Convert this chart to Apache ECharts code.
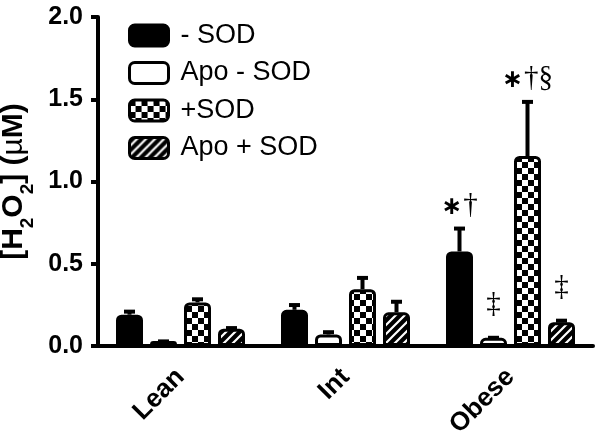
<!DOCTYPE html>
<html><head><meta charset="utf-8">
<script src="https://cdn.jsdelivr.net/npm/echarts@6/dist/echarts.min.js"></script>
<style>html,body{margin:0;padding:0;background:#fff}#c{width:602px;height:438px}</style>
</head><body><div id="c"></div>
<script>
const categories = ['Lean', 'Int', 'Obese'];
const seriesNames = ['- SOD', 'Apo - SOD', '+SOD', 'Apo + SOD'];
const minusSOD = [0.19, 0.22, 0.575];
const apoMinusSOD = [0.03, 0.07, 0.05];
const plusSOD = [0.265, 0.345, 1.155];
const apoPlusSOD = [0.105, 0.205, 0.145];
const minusSODErr = [0.025, 0.035, 0.145];
const apoMinusSODErr = [0.004, 0.02, 0.006];
const plusSODErr = [0.025, 0.075, 0.335];
const apoPlusSODErr = [0.01, 0.07, 0.015];
const minusSODMarks = ['', '', '∗†'];
const apoMinusSODMarks = ['', '', '‡'];
const plusSODMarks = ['', '', '∗†§'];
const apoPlusSODMarks = ['', '', '‡'];
const yTicks = ['0.0', '0.5', '1.0', '1.5', '2.0'];

const values = [minusSOD, apoMinusSOD, plusSOD, apoPlusSOD];
const errs = [minusSODErr, apoMinusSODErr, plusSODErr, apoPlusSODErr];
const marks = [minusSODMarks, apoMinusSODMarks, plusSODMarks, apoPlusSODMarks];

function checker() {
  const c = document.createElement('canvas'); c.width = 12; c.height = 12;
  const g = c.getContext('2d');
  g.fillStyle = '#fff'; g.fillRect(0, 0, 12, 12);
  g.fillStyle = '#000'; g.fillRect(0, 0, 6, 6); g.fillRect(6, 6, 6, 6);
  return c;
}
function hatch() {
  const c = document.createElement('canvas'); c.width = 9; c.height = 9;
  const g = c.getContext('2d');
  g.fillStyle = '#000'; g.fillRect(0, 0, 9, 9);
  g.strokeStyle = '#fff'; g.lineWidth = 2.2;
  g.beginPath();
  g.moveTo(-2, 11); g.lineTo(11, -2);
  g.moveTo(-2, 2); g.lineTo(2, -2);
  g.moveTo(7, 11); g.lineTo(11, 7);
  g.stroke();
  return c;
}
const fills = ['#000', '#fff', { image: checker(), repeat: 'repeat' }, { image: hatch(), repeat: 'repeat' }];

const BW = 27, GAP = 7;

function errRender(si) {
  return function (params, api) {
    const x = api.value(0), v = api.value(1), e = api.value(2);
    const annot = marks[si][params.dataIndex];
    const base = api.coord([x, v]);
    const top = api.coord([x, v + e]);
    const cx = base[0] + (si - 1.5) * (BW + GAP);
    const children = [
      { type: 'rect', shape: { x: cx - 2, y: top[1], width: 4, height: base[1] - top[1] }, style: { fill: '#000' } },
      { type: 'rect', shape: { x: cx - 5.5, y: top[1] - 1, width: 11, height: 4 }, style: { fill: '#000' } }
    ];
    if (annot) {
      let txt;
      if (annot[0] === '∗') txt = '{a|∗}{d|' + annot.slice(1) + '}';
      else txt = '{dd|' + annot + '}';
      children.push({
        type: 'text',
        style: {
          x: cx, y: top[1] - 8, text: txt, align: 'center', verticalAlign: 'bottom',
          rich: {
            a: { fontFamily: 'DejaVu Sans', fontSize: 25, fontWeight: 'bold', fill: '#000', verticalAlign: 'bottom', padding: [0, 1, 0, 0] },
            d: { fontFamily: 'Liberation Serif', fontSize: 29, fill: '#000', verticalAlign: 'bottom' },
            dd: { fontFamily: 'Liberation Serif', fontSize: 29, fill: '#000', verticalAlign: 'bottom', padding: [0, 0, 10, 0] }
          }
        }
      });
    }
    return { type: 'group', children };
  };
}

const series = [];
seriesNames.forEach((n, i) => {
  series.push({
    name: n, type: 'bar', data: values[i], barWidth: BW, barGap: (GAP / BW * 100) + '%',
    itemStyle: { color: fills[i], borderColor: '#000', borderWidth: 3, borderRadius: [4, 4, 0, 0] },
    z: 2
  });
});
seriesNames.forEach((n, i) => {
  series.push({
    type: 'custom', renderItem: errRender(i), z: 3,
    data: categories.map((c, k) => [k, values[i][k], errs[i][k]]),
    encode: { x: 0, y: 1 }, silent: true
  });
});

const chart = echarts.init(document.getElementById('c'));
chart.setOption({
  animation: false,
  grid: { left: 98, right: 9, top: 17, bottom: 92, containLabel: false, outerBoundsMode: 'none' },
  legend: {
    orient: 'vertical', left: 123, top: 17, itemWidth: 39, itemHeight: 21, itemGap: 10.5,
    icon: 'roundRect', selectedMode: false,
    itemStyle: { borderWidth: 3, borderColor: '#000' },
    textStyle: { fontFamily: 'Liberation Sans', fontSize: 27, color: '#000', lineHeight: 27, padding: [0, 0, 0, 7] },
    data: seriesNames
  },
  xAxis: {
    type: 'category', data: categories,
    axisLine: { lineStyle: { color: '#000', width: 4 } },
    axisTick: { alignWithLabel: true, length: 7, lineStyle: { color: '#000', width: 4 } },
    axisLabel: { rotate: 45, fontFamily: 'Liberation Sans', fontWeight: 'bold', fontSize: 26, color: '#000', margin: 27 }
  },
  yAxis: {
    type: 'value', min: 0, max: 2, interval: 0.5,
    splitLine: { show: false },
    axisLine: { show: true, lineStyle: { color: '#000', width: 4 } },
    axisTick: { show: true, length: 7, lineStyle: { color: '#000', width: 4 } },
    axisLabel: { formatter: v => yTicks[Math.round(v / 0.5)], fontFamily: 'Liberation Sans', fontWeight: 'bold', fontSize: 25, color: '#000', margin: 15 },
    name: '[H{s|2}O{s|2}] ({u|µ}M)', nameLocation: 'middle', nameGap: 69, nameRotate: 90,
    nameTextStyle: {
      fontFamily: 'Liberation Sans', fontWeight: 'bold', fontSize: 30, color: '#000',
      rich: {
        s: { fontFamily: 'Liberation Sans', fontWeight: 'bold', fontSize: 19, color: '#000', verticalAlign: 'bottom', padding: [0, 0, -9, 0] },
        u: { fontFamily: 'Liberation Sans', fontWeight: 'normal', fontSize: 30, color: '#000' }
      }
    }
  },
  series
});
</script></body></html>
